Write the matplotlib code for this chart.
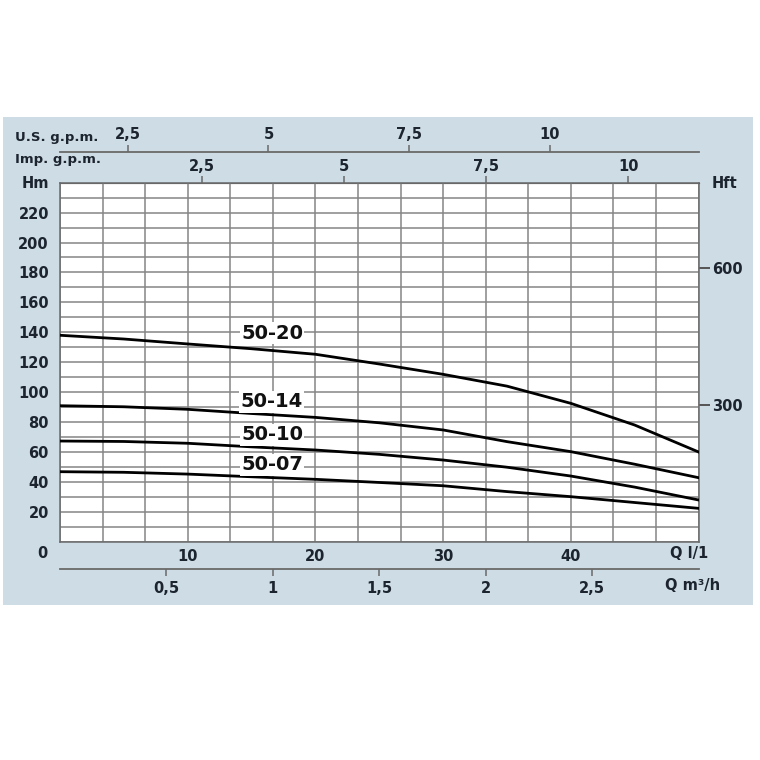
import numpy as np
import matplotlib.pyplot as plt
from matplotlib.patches import Rectangle

plt.rcParams['font.family'] = ['DejaVu Sans']
plt.rcParams['font.weight'] = 'bold'

# flow in l/min
q = [0, 5, 10, 15, 20, 25, 30, 35, 40, 45, 50]

# head in m for each pump
h_50_20 = [138.0, 135.5, 132.2, 129.0, 125.3, 118.8, 111.9, 104.0, 92.5, 78.0, 60.0]
h_50_14 = [90.9, 90.2, 88.5, 85.7, 83.1, 79.5, 74.7, 66.9, 60.2, 51.8, 42.8]
h_50_10 = [67.3, 67.0, 65.8, 63.4, 61.3, 58.4, 54.6, 49.8, 43.9, 36.5, 27.9]
h_50_07 = [46.8, 46.4, 45.2, 43.4, 41.7, 39.6, 37.4, 33.5, 30.1, 26.2, 22.3]

curves = [h_50_20, h_50_14, h_50_10, h_50_07]
names = ['50-20', '50-14', '50-10', '50-07']
label_y = [139.5, 93.4, 71.5, 51.3]

hm_ticks = [20, 40, 60, 80, 100, 120, 140, 160, 180, 200, 220]
ql_ticks = [10, 20, 30, 40]
m3h_ticks = [0.5, 1, 1.5, 2, 2.5]
m3h_labels = ['0,5', '1', '1,5', '2', '2,5']
gpm_ticks = [2.5, 5, 7.5, 10]
gpm_labels = ['2,5', '5', '7,5', '10']
hft_ticks = [300, 600]

txt = '#1c2430'
gridc = '#858585'
W = 760.0

fig = plt.figure(figsize=(7.6, 7.6), dpi=100)
fig.patches.append(Rectangle((3 / W, 1 - 605 / W), 750 / W, 488 / W,
                             transform=fig.transFigure, facecolor='#cddce5',
                             edgecolor='none', zorder=-5))

ax = fig.add_axes([60 / W, 1 - 541.7 / W, 638.5 / W, 359 / W])
ax.set_facecolor('white')
ax.set_xlim(0, 50)
ax.set_ylim(0, 240)

for h in curves:
    ax.plot(q, h, color='black', lw=2.0, zorder=3)

for name, ly in zip(names, label_y):
    ax.text(16.6, ly, name, fontsize=14, color='#111111', ha='center', va='center',
            zorder=4, bbox=dict(facecolor='white', edgecolor='none', pad=1.0))

ax.set_xticks(ql_ticks)
ax.set_xticks(np.arange(0, 50.01, 10 / 3), minor=True)
ax.set_yticks(hm_ticks)
ax.set_yticks(np.arange(0, 240.01, 10), minor=True)
ax.grid(which='both', color=gridc, lw=1.1, zorder=1)
ax.tick_params(which='both', length=0, labelsize=10.5, labelcolor=txt)
ax.tick_params(axis='x', pad=5)
ax.tick_params(axis='y', pad=8)
for s in ax.spines.values():
    s.set_color('#6a6a6a')
    s.set_linewidth(1.1)

# Imp. g.p.m. on the top edge
imp = ax.secondary_xaxis('top', functions=(lambda x: x / 4.45, lambda g: g * 4.45))
imp.set_xticks(gpm_ticks)
imp.set_xticklabels(gpm_labels)
imp.tick_params(length=5, width=1.1, color='#6a6a6a', labelsize=10.5, labelcolor=txt, pad=1.5)

# U.S. g.p.m. above it
us = ax.secondary_xaxis(1.0864, functions=(lambda x: (x + 5.705) / 4.406,
                                           lambda g: g * 4.406 - 5.705))
us.set_xticks(gpm_ticks)
us.set_xticklabels(gpm_labels)
us.tick_params(length=5, width=1.1, color='#6a6a6a', labelsize=10.5, labelcolor=txt, pad=2)
us.spines['top'].set_color('#6a6a6a')
us.spines['top'].set_linewidth(1.3)

# m3/h below
m3 = ax.secondary_xaxis(-0.0769, functions=(lambda x: x * 0.06, lambda m: m / 0.06))
m3.set_xticks(m3h_ticks)
m3.set_xticklabels(m3h_labels)
m3.tick_params(length=5, width=1.1, color='#6a6a6a', labelsize=10.5, labelcolor=txt, pad=3.5)
m3.spines['bottom'].set_color('#6a6a6a')
m3.spines['bottom'].set_linewidth(1.3)

# feet on the right
ft = ax.secondary_yaxis('right', functions=(lambda m: m * 3.281, lambda f: f / 3.281))
ft.set_yticks(hft_ticks)
ft.tick_params(length=8, width=1.4, color='#555555', labelsize=10.5, labelcolor=txt, pad=1.5)
ft.spines['right'].set_visible(False)

fig.text(15 / W, 1 - 138 / W, 'U.S. g.p.m.', fontsize=9.5, color=txt, va='center')
fig.text(15 / W, 1 - 160 / W, 'Imp. g.p.m.', fontsize=9.5, color=txt, va='center')
fig.text(49 / W, 1 - 183 / W, 'Hm', fontsize=10.5, color=txt, ha='right', va='center')
fig.text(712 / W, 1 - 183 / W, 'Hft', fontsize=10.5, color=txt, ha='left', va='center')
fig.text(42 / W, 1 - 554 / W, '0', fontsize=10.5, color=txt, ha='center', va='center')
fig.text(708 / W, 1 - 554 / W, 'Q l/1', fontsize=10.5, color=txt, ha='right', va='center')
fig.text(665 / W, 1 - 585 / W, 'Q m\u00b3/h', fontsize=10.5, color=txt, ha='left', va='center')

fig.savefig('out.png', dpi=100, facecolor='white')
